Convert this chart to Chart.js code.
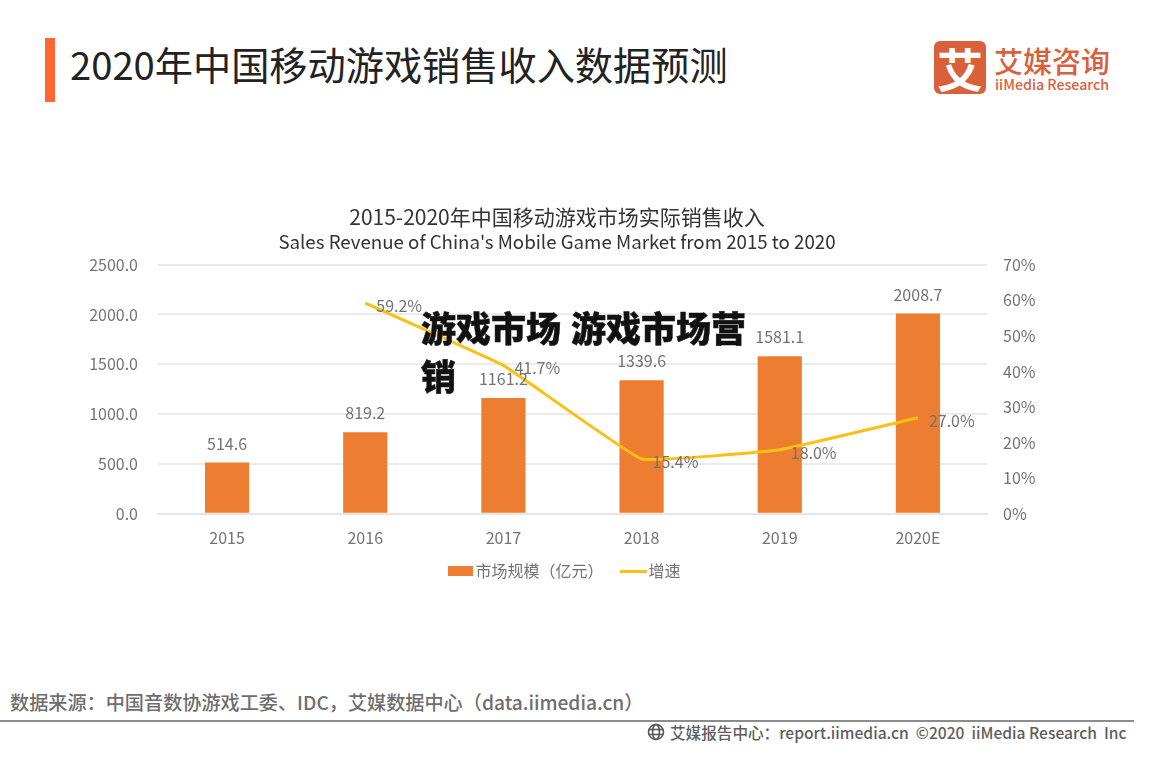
<!DOCTYPE html>
<html>
<head>
<meta charset="utf-8">
<script src="https://cdn.jsdelivr.net/npm/chart.js@4"></script>
<style>
  html, body { margin: 0; padding: 0; background: #fff; }
  body { position: relative; width: 1165px; height: 764px; overflow: hidden; font-family: "Noto Sans CJK SC", sans-serif; }
  .abs { position: absolute; white-space: nowrap; }
  #chart { position: absolute; left: 77px; top: 200px; }
</style>
</head>
<body>
<div class="abs" style="left:45px;top:38px;width:10px;height:64px;background:#ff6633"></div>
<div class="abs" style="left:70px;top:37px;font-size:38.2px;line-height:54px;color:#222">2020年中国移动游戏销售收入数据预测</div>

<div class="abs" style="left:934px;top:41px;width:52px;height:53px;border-radius:6px;background:#d9603b;color:#fff;font-size:46px;line-height:52px;font-weight:700;text-align:center">艾</div>
<div class="abs" style="left:994px;top:39px;font-size:29px;line-height:42px;color:#d9603b;font-weight:500">艾媒咨询</div>
<div class="abs" style="left:995px;top:73px;font-size:14.2px;line-height:22px;color:#d9603b;font-weight:500">iiMedia Research</div>

<canvas id="chart" width="960" height="404"></canvas>

<div class="abs" style="left:421px;top:303px;width:340px;white-space:normal;font-size:35px;word-spacing:2px;line-height:48px;font-weight:900;color:#111;-webkit-text-stroke:0.5px #111;text-shadow:0 0 2px #fff">游戏市场 游戏市场营销</div>

<div class="abs" style="left:10px;top:689px;font-size:19.15px;line-height:26px;color:#6e6e6e;font-weight:500">数据来源：中国音数协游戏工委、IDC，艾媒数据中心（data.iimedia.cn）</div>
<div class="abs" style="left:0;top:720px;width:1134px;height:2px;background:#8c8c8c"></div>
<svg class="abs" style="left:647px;top:723px" width="18" height="18" viewBox="0 0 18 18" fill="none" stroke="#555" stroke-width="1.6">
  <circle cx="9" cy="9" r="7.5"/><ellipse cx="9" cy="9" rx="3.4" ry="7.5"/><path d="M2 6.5h14M2 11.5h14"/>
</svg>
<div class="abs" style="left:670px;top:721px;font-size:15.6px;line-height:22px;color:#5e5e5e;font-weight:500">艾媒报告中心：report.iimedia.cn&nbsp; ©2020&nbsp; iiMedia Research&nbsp; Inc</div>

<script>
const categories = ["2015", "2016", "2017", "2018", "2019", "2020E"];
const marketSize = [514.6, 819.2, 1161.2, 1339.6, 1581.1, 2008.7];
const growthRate = [null, 59.2, 41.7, 15.4, 18.0, 27.0];
const growthLabels = ["", "59.2%", "41.7%", "15.4%", "18.0%", "27.0%"];
const seriesNames = ["市场规模（亿元）", "增速"];
const chartTitle = "2015-2020年中国移动游戏市场实际销售收入";
const chartSubtitle = "Sales Revenue of China's Mobile Game Market from 2015 to 2020";

const FONT = '"Noto Sans CJK SC", sans-serif';
const BAR_COLOR = "#ed7d31";
const LINE_COLOR = "#fcc012";
const TEXT_COLOR = "#737373";

// legend swatches are small canvases so the box and the line keep their own size
function swatch(w, h, color) {
  const c = document.createElement("canvas");
  c.width = w;
  c.height = h;
  const g = c.getContext("2d");
  g.fillStyle = color;
  g.fillRect(0, 0, w, h);
  return c;
}
const swatches = [swatch(25, 10, BAR_COLOR), swatch(27, 3, LINE_COLOR)];

const valueLabels = {
  id: "valueLabels",
  afterLayout(chart) {
    // big legend padding gives the wide gap between items, so pull the row back up
    chart.legend.left += 10;
    chart.legend.right += 10;
    chart.legend.top -= 15;
    chart.legend.bottom -= 15;
  },
  afterDatasetsDraw(chart) {
    const ctx = chart.ctx;
    ctx.save();
    ctx.font = "16px " + FONT;
    ctx.fillStyle = TEXT_COLOR;
    ctx.textBaseline = "middle";
    ctx.textAlign = "center";
    chart.getDatasetMeta(1).data.forEach(function (bar, i) {
      ctx.fillText(marketSize[i].toFixed(1), bar.x, bar.y - 19);
    });
    ctx.textAlign = "left";
    chart.getDatasetMeta(0).data.forEach(function (pt, i) {
      if (growthRate[i] !== null) ctx.fillText(growthLabels[i], pt.x + 11, pt.y + 3);
    });
    ctx.restore();
  },
};

new Chart(document.getElementById("chart").getContext("2d"), {
  data: {
    labels: categories,
    datasets: [
      {
        type: "line",
        label: seriesNames[1],
        data: growthRate,
        yAxisID: "yRate",
        borderColor: LINE_COLOR,
        borderWidth: 3,
        pointRadius: 0,
        tension: 0.08,
        order: 1,
      },
      {
        type: "bar",
        label: seriesNames[0],
        data: marketSize,
        yAxisID: "ySize",
        backgroundColor: BAR_COLOR,
        barPercentage: 0.32,
        categoryPercentage: 1,
        order: 2,
      },
    ],
  },
  options: {
    responsive: false,
    animation: false,
    plugins: {
      title: {
        display: true,
        text: chartTitle,
        color: "#333333",
        font: { family: FONT, size: 21, weight: "400", lineHeight: 1.15 },
        padding: { top: 5, bottom: 0 },
      },
      subtitle: {
        display: true,
        text: chartSubtitle,
        color: "#333333",
        font: { family: FONT, size: 18.7, weight: "400", lineHeight: 1.15 },
        padding: { top: 2, bottom: 12 },
      },
      legend: {
        position: "bottom",
        labels: {
          usePointStyle: true,
          pointStyleWidth: 14,
          color: TEXT_COLOR,
          font: { family: FONT, size: 16 },
          padding: 23,
          boxHeight: 10,
          generateLabels: function () {
            return [
              { text: seriesNames[0], pointStyle: swatches[0], fontColor: TEXT_COLOR, datasetIndex: 1 },
              { text: seriesNames[1], pointStyle: swatches[1], fontColor: TEXT_COLOR, datasetIndex: 0 },
            ];
          },
        },
      },
      tooltip: { enabled: false },
    },
    scales: {
      x: {
        grid: { display: false },
        border: { color: "#e6e6e6", width: 2 },
        ticks: { color: TEXT_COLOR, font: { family: FONT, size: 16 }, padding: 7 },
      },
      ySize: {
        position: "left",
        min: 0,
        max: 2500,
        afterFit: function (axis) { axis.width = 81; },
        border: { display: false },
        grid: { color: "#ebebeb", lineWidth: 2, drawTicks: false },
        ticks: {
          stepSize: 500,
          color: TEXT_COLOR,
          font: { family: FONT, size: 16 },
          padding: 20,
          callback: function (value) { return value.toFixed(1); },
        },
      },
      yRate: {
        position: "right",
        min: 0,
        max: 70,
        afterFit: function (axis) { axis.width = 50; },
        border: { display: false },
        grid: { display: false, drawTicks: false },
        ticks: {
          stepSize: 10,
          color: TEXT_COLOR,
          font: { family: FONT, size: 16 },
          padding: 16,
          callback: function (value) { return value + "%"; },
        },
      },
    },
  },
  plugins: [valueLabels],
});
</script>
</body>
</html>
